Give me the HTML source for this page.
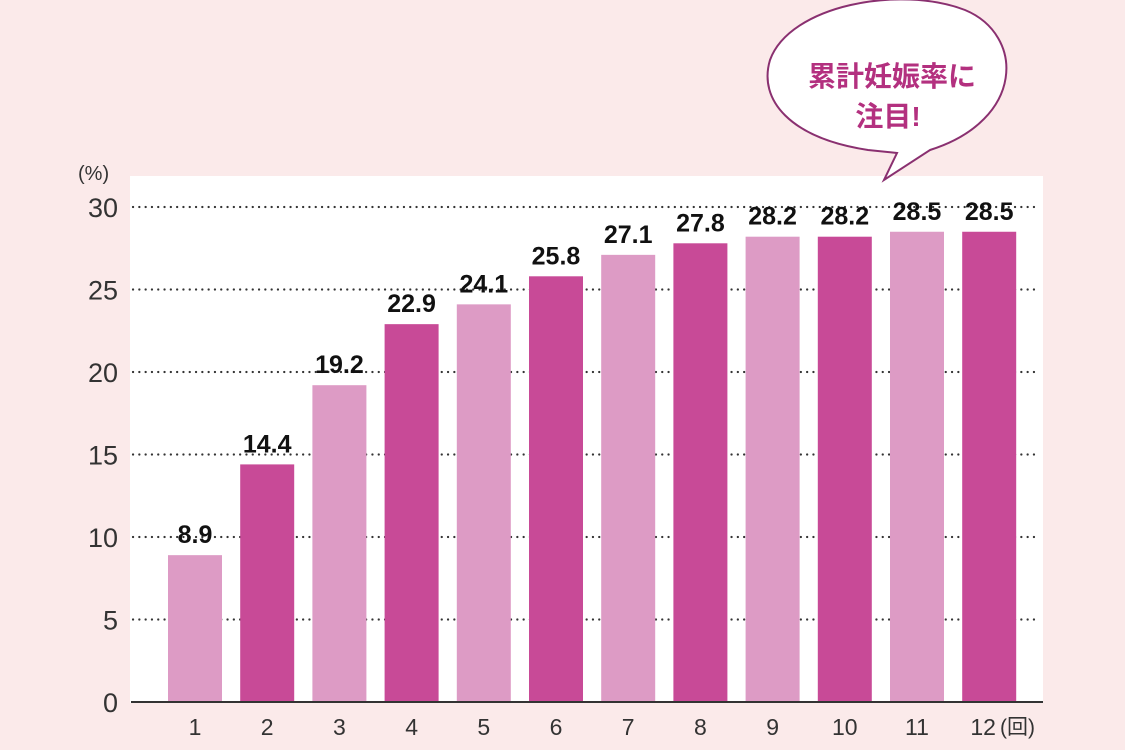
<!DOCTYPE html>
<html><head><meta charset="utf-8"><style>
html,body{margin:0;padding:0;background:#fbeaea;}
svg{display:block;font-family:"Liberation Sans","Noto Sans CJK JP",sans-serif;}
</style></head><body>
<svg width="1125" height="750" viewBox="0 0 1125 750">
<rect width="1125" height="750" fill="#fbeaea"/>
<rect x="130" y="176" width="913" height="527" fill="#ffffff"/>
<g id="grid"></g><g id="bars"></g><g id="labels"></g>
<line x1="131" y1="702" x2="1043" y2="702" stroke="#333" stroke-width="2"/>
<text x="78" y="180" font-size="20" fill="#333">(%)</text>
<text x="1000" y="734" font-size="21" fill="#333">(回)</text>
<g>
<path d="M 868 150 C 790 138 758 100 770 60 C 790 5 900 -15 965 10 C 1025 35 1025 120 930 150 L 884 180 L 897 153 Z" fill="#ffffff" stroke="#8a3070" stroke-width="2"/>
<text x="892" y="86" font-size="28" font-weight="bold" fill="#b3307f" text-anchor="middle">累計妊娠率に</text>
<text x="888" y="126" font-size="28" font-weight="bold" fill="#b3307f" text-anchor="middle">注目!</text>
</g>
</svg>
<script>
const categories=["1","2","3","4","5","6","7","8","9","10","11","12"];
const values=[8.9,14.4,19.2,22.9,24.1,25.8,27.1,27.8,28.2,28.2,28.5,28.5];
const valueLabels=["8.9","14.4","19.2","22.9","24.1","25.8","27.1","27.8","28.2","28.2","28.5","28.5"];
const yTicks=[0,5,10,15,20,25,30];
const NS="http://www.w3.org/2000/svg";
const y=v=>702-v*(495/30);
const x=i=>168+i*72.2;
const bw=54;
const grid=document.getElementById('grid'),bars=document.getElementById('bars'),labels=document.getElementById('labels');
yTicks.forEach(t=>{
 if(t>0){const l=document.createElementNS(NS,'line');
 l.setAttribute('x1',133);l.setAttribute('x2',1040);l.setAttribute('y1',y(t));l.setAttribute('y2',y(t));
 l.setAttribute('stroke','#333');l.setAttribute('stroke-width','2.2');l.setAttribute('stroke-dasharray','0.1 6.2');l.setAttribute('stroke-linecap','round');
 
 
 grid.appendChild(l);}
 const tx=document.createElementNS(NS,'text');
 tx.setAttribute('x',118);tx.setAttribute('y',y(t)+10);tx.setAttribute('text-anchor','end');tx.setAttribute('font-size','27');tx.setAttribute('fill','#333');
 tx.textContent=t;
 
 
 grid.appendChild(tx);
});
categories.forEach((c,i)=>{
 const r=document.createElementNS(NS,'rect');
 r.setAttribute('x',x(i));r.setAttribute('width',bw);r.setAttribute('y',y(values[i]));r.setAttribute('height',702-y(values[i]));
 r.setAttribute('fill',i%2===0?'#dd9bc5':'#c84a97');
 
 
 bars.appendChild(r);
 const v=document.createElementNS(NS,'text');
 v.setAttribute('x',x(i)+bw/2);v.setAttribute('y',y(values[i])-12);v.setAttribute('text-anchor','middle');
 v.setAttribute('font-size','25');v.setAttribute('font-weight','bold');v.setAttribute('fill','#111');
 v.textContent=valueLabels[i];
 
 
 labels.appendChild(v);
 const cx=document.createElementNS(NS,'text');
 cx.setAttribute('x',i===11?x(i)+bw/2-6:x(i)+bw/2);cx.setAttribute('y',735);cx.setAttribute('text-anchor','middle');cx.setAttribute('font-size','23');cx.setAttribute('fill','#333');
 cx.textContent=c;
 
 
 labels.appendChild(cx);
});
</script>
</body></html>
